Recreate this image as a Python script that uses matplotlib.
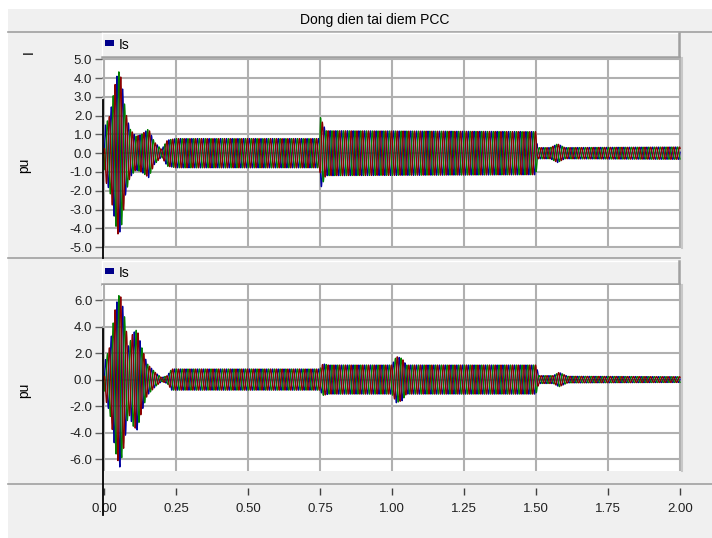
import numpy as np
import matplotlib.pyplot as plt
from matplotlib.patches import Rectangle
from matplotlib.lines import Line2D

plt.rcParams['font.family'] = ['Liberation Sans', 'DejaVu Sans']

W, H = 712, 538

title = 'Dong dien tai diem PCC'
legend_label = 'Is'
x_ticks = [0.0, 0.25, 0.5, 0.75, 1.0, 1.25, 1.5, 1.75, 2.0]
top_yticks = [5.0, 4.0, 3.0, 2.0, 1.0, 0.0, -1.0, -2.0, -3.0, -4.0, -5.0]
bot_yticks = [6.0, 4.0, 2.0, 0.0, -2.0, -4.0, -6.0]

# envelope of the three-phase current (time s, peak pu)
top_env_t = [0.0, 0.005, 0.02, 0.04, 0.05, 0.06, 0.075, 0.09, 0.11, 0.13, 0.155,
             0.175, 0.2, 0.22, 0.25, 0.749, 0.752, 0.77, 1.5, 1.505, 1.55, 1.575,
             1.6, 2.0]
top_env_a = [0.0, 1.5, 2.0, 3.8, 4.4, 4.0, 2.2, 1.3, 0.9, 1.0, 1.3,
             0.6, 0.2, 0.7, 0.78, 0.78, 1.9, 1.2, 1.15, 0.3, 0.3, 0.5,
             0.3, 0.33]
bot_env_t = [0.0, 0.005, 0.02, 0.04, 0.055, 0.07, 0.085, 0.1, 0.115, 0.13, 0.15,
             0.18, 0.2, 0.22, 0.235, 0.75, 0.76, 0.78, 1.0, 1.015, 1.035, 1.05,
             1.5, 1.51, 1.56, 1.58, 1.61, 2.0]
bot_env_a = [0.0, 1.5, 2.5, 5.5, 6.6, 5.0, 2.5, 3.5, 3.8, 2.5, 1.2,
             0.5, 0.15, 0.3, 0.8, 0.8, 1.2, 1.1, 1.1, 1.75, 1.6, 1.1,
             1.1, 0.3, 0.3, 0.55, 0.25, 0.22]
freq = 50.0
phase_colors = ['#0000a0', '#008000', '#8b0000']
cursor_top = 2.85
cursor_bot = 3.8


def box(x0, y0, x1, y1):
    return [x0 / W, 1 - y1 / H, (x1 - x0) / W, (y1 - y0) / H]


def frect(fig, x0, y0, x1, y1, fc, z=-10):
    fig.add_artist(Rectangle((x0 / W, 1 - y1 / H), (x1 - x0) / W, (y1 - y0) / H,
                             transform=fig.transFigure, fc=fc, ec='none', zorder=z))


def fline(fig, x0, y0, x1, y1, color='#a0a0a0', lw=1.2, z=-5):
    fig.add_artist(Line2D([x0 / W, x1 / W], [1 - y0 / H, 1 - y1 / H],
                          transform=fig.transFigure, color=color, lw=lw, zorder=z))


fig = plt.figure(figsize=(W / 100, H / 100), dpi=100, facecolor='white')
frect(fig, 8, 9, W, H, '#f0f0f0')

# title bar
fline(fig, 8, 32, W, 32)
fig.text(375 / W, 1 - 20 / H, title, ha='center', va='center', fontsize=10)

t = np.arange(0, 2.0005, 0.0005)


def draw_panel(y_leg, y_top, y_bot, ylim, yticks, env_t, env_a, ylab):
    # legend bar with raised edges
    fline(fig, 102, y_leg, 679, y_leg, color='white', lw=1.0, z=-4)
    fline(fig, 102, y_leg, 102, y_top, color='white', lw=1.0, z=-4)
    fline(fig, 679, y_leg, 679, y_top - 1, color='#a0a0a0', lw=1.8, z=-4)
    fline(fig, 102, y_top - 1, 679, y_top - 1, color='#a0a0a0', lw=1.8, z=-4)
    frect(fig, 105, y_leg + 7, 114, y_leg + 13, '#00008b', z=-3)
    fig.text(119 / W, 1 - (y_leg + 12) / H, legend_label, fontsize=10, va='center')
    fig.text(24 / W, 1 - ((y_top + y_bot) / 2 + 12) / H, ylab, rotation=90,
             ha='center', va='center', fontsize=10)

    ax = fig.add_axes(box(102, y_top, 682, y_bot))
    ax.set_facecolor('white')
    env = np.interp(t, env_t, env_a)
    for k, c in enumerate(phase_colors):
        ax.plot(t, env * np.sin(2 * np.pi * freq * t - k * 2 * np.pi / 3),
                color=c, lw=0.9)
    ax.set_xlim(-2 / 288, 2 + 2 / 288)
    ax.set_ylim(*ylim)
    ax.set_xticks(x_ticks)
    ax.set_yticks(yticks)
    ax.set_yticklabels(['%.1f' % v for v in yticks])
    ax.tick_params(axis='x', length=0, labelbottom=False)
    ax.tick_params(axis='y', length=5, width=1, color='#606060', labelsize=9.5,
                   labelcolor='#202020', pad=2)
    ax.grid(True, color='#b0b0b0', lw=1.5)
    ax.set_axisbelow(True)
    for side in ['top', 'left', 'bottom']:
        ax.spines[side].set_visible(False)
    ax.spines['right'].set_color('#c8c8c8')
    ax.spines['right'].set_linewidth(1.5)
    return ax


ax1 = draw_panel(33, 58, 248, (-5.05, 5.07), top_yticks, top_env_t, top_env_a, 'pu')
fig.text(29 / W, 1 - 52 / H, 'I', rotation=90, ha='center', va='center', fontsize=10)
fline(fig, 8, 258, 680, 258)
ax2 = draw_panel(261, 285, 471, (-6.9, 7.14), bot_yticks, bot_env_t, bot_env_a, 'pu')

# cursor line at t = 0
y_c1 = ax1.transData.transform((0, cursor_top))
fline(fig, 103, H - y_c1[1], 103, 258, color='black', lw=1.3, z=5)
y_c2 = ax2.transData.transform((0, cursor_bot))
fline(fig, 103, H - y_c2[1], 103, 515, color='black', lw=1.3, z=5)

# x axis ruler
fline(fig, 8, 484, W, 484)
axx = fig.add_axes(box(102, 487, 682, 488))
axx.set_xlim(-2 / 288, 2 + 2 / 288)
axx.set_xticks(x_ticks)
axx.set_xticklabels(['%.2f' % v for v in x_ticks])
axx.tick_params(axis='x', length=5, width=1, color='#404040', labelsize=9.5,
                labelcolor='#202020', pad=6)
axx.set_yticks([])
for side in ['top', 'left', 'right', 'bottom']:
    axx.spines[side].set_visible(False)
axx.patch.set_visible(False)

fig.savefig('out.png', dpi=100, facecolor=fig.get_facecolor())
